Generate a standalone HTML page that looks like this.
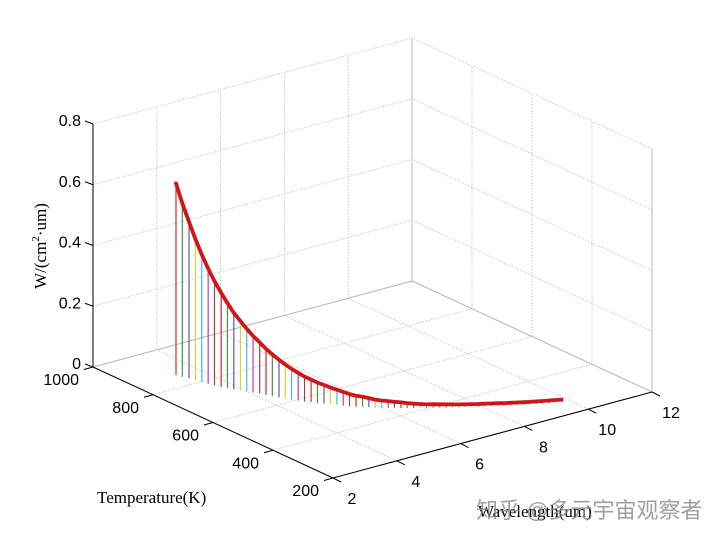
<!DOCTYPE html>
<html><head><meta charset="utf-8"><style>
html,body{margin:0;padding:0;background:#fff;width:720px;height:539px;overflow:hidden}
svg{display:block}
text{font-family:"Liberation Sans",sans-serif;font-size:16px;fill:#000}
.serif{font-family:"Liberation Serif",serif}
</style></head><body>
<svg id="chart" width="720" height="539" viewBox="0 0 720 539" xmlns="http://www.w3.org/2000/svg">
<g id="grid"></g>
<g id="axes"></g>
<g id="stems"></g>
<path id="curve" fill="none" stroke="#d0161b" stroke-width="3.8" stroke-linejoin="round" stroke-linecap="round"/>
<text class="serif" transform="translate(46,246) rotate(-90)" text-anchor="middle" style="font-size:17px">W/(cm<tspan dy="-7" style="font-size:11px">2</tspan><tspan dy="7">·um)</tspan></text>
<text class="serif" x="97" y="503" style="font-size:17px">Temperature(K)</text>
<text class="serif" x="478" y="517" style="font-size:17px">Wavelength(um)</text>
<text x="476" y="518" style="font-family:'Liberation Sans','Noto Sans CJK SC',sans-serif;font-size:22px;fill:#888;opacity:0.8">知乎 @多元宇宙观察者</text>
</svg>
<script>
// ---- data ----
const wavelength = [3.29,3.35,3.42,3.46,3.50,3.56,3.62,3.69,3.77,3.83,3.92,4.00,4.08,4.17,4.23,4.31,4.38,4.46,4.54,4.63,4.71,4.82,4.90,5.01,5.11,5.22,5.30,5.40,5.51,5.64,5.74,5.84,5.97,6.10,6.22,6.35,6.47,6.60,6.73,6.85,7.00,7.14,7.26,7.40,7.53,7.66,7.81,7.94,8.08,8.22,8.36,8.49,8.63,8.77,8.91,9.05,9.20,9.34,9.48,9.63,9.77];
const temperature = [860.5,845.8,830.9,813.9,796.9,782.0,767.3,752.5,740.1,725.2,712.7,700.2,687.6,675.1,660.4,647.8,633.1,620.6,608.1,595.5,583.0,572.7,560.1,549.9,539.7,529.3,516.8,506.6,496.4,488.3,478.1,467.9,459.9,451.9,443.9,435.9,427.9,419.9,411.9,403.9,398.0,390.9,382.4,375.8,368.3,360.6,354.9,347.8,340.8,334.0,327.4,320.3,313.6,307.0,300.3,294.1,288.4,282.6,275.5,269.7,264.0];
const power = [0.632,0.571,0.515,0.465,0.420,0.379,0.343,0.309,0.279,0.252,0.228,0.206,0.186,0.168,0.152,0.137,0.124,0.112,0.101,0.091,0.082,0.074,0.067,0.061,0.055,0.049,0.045,0.040,0.036,0.033,0.030,0.027,0.024,0.022,0.020,0.018,0.016,0.014,0.013,0.012,0.011,0.010,0.010,0.009,0.009,0.009,0.008,0.008,0.008,0.008,0.008,0.008,0.008,0.008,0.008,0.008,0.008,0.008,0.009,0.009,0.009];
const lambdaTicks = [2,4,6,8,10,12];
const tempTicks = [200,400,600,800,1000];
const zTicks = [0,0.2,0.4,0.6,0.8];
const zTickLabels = ["0","0.2","0.4","0.6","0.8"];

// ---- projection ----
const O = [93,367];
const LV = [319,-86];
const TV = [240,111];
const ZV = [0,-243];
function P(l,t,z){
  const a=(l-2)/10, b=(1000-t)/800, c=z/0.8;
  return [O[0]+a*LV[0]+b*TV[0]+c*ZV[0], O[1]+a*LV[1]+b*TV[1]+c*ZV[1]];
}
const NS="http://www.w3.org/2000/svg";
function line(g,p,q,stroke,w,dash,name){
  const e=document.createElementNS(NS,"line");
  e.setAttribute("x1",p[0]);e.setAttribute("y1",p[1]);e.setAttribute("x2",q[0]);e.setAttribute("y2",q[1]);
  e.setAttribute("stroke",stroke);e.setAttribute("stroke-width",w);
  if(dash)e.setAttribute("stroke-dasharray",dash);
  
  
  g.appendChild(e);return e;
}
function txt(g,x,y,s,anchor,name){
  const e=document.createElementNS(NS,"text");
  e.setAttribute("x",x);e.setAttribute("y",y);e.setAttribute("text-anchor",anchor);
  e.textContent=s;
  
  
  g.appendChild(e);return e;
}
const grid=document.getElementById("grid"), axes=document.getElementById("axes");
const gc="#c8c8c8", dsh="1.5,1.5";
lambdaTicks.forEach(l=>line(grid,P(l,200,0),P(l,1000,0),gc,1,dsh,"floor-grid-lambda"));
tempTicks.forEach(t=>line(grid,P(2,t,0),P(12,t,0),gc,1,dsh,"floor-grid-temp"));
lambdaTicks.forEach(l=>line(grid,P(l,1000,0),P(l,1000,0.8),gc,1,dsh,"wall-grid-lambda"));
zTicks.forEach(z=>line(grid,P(2,1000,z),P(12,1000,z),gc,1,dsh,"wall-grid-z"));
tempTicks.forEach(t=>line(grid,P(12,t,0),P(12,t,0.8),gc,1,dsh,"side-grid-temp"));
zTicks.forEach(z=>line(grid,P(12,200,z),P(12,1000,z),gc,1,dsh,"side-grid-z"));
line(grid,P(12,1000,0),P(12,1000,0.8),"#bbb",1,null,"box-edge-back");
line(grid,P(2,1000,0),P(12,1000,0),"#bbb",1,null,"box-edge-floor-back");
line(grid,P(12,200,0),P(12,1000,0),"#bbb",1,null,"box-edge-floor-side");
line(grid,P(12,200,0),P(12,200,0.8),"#bbb",1,null,"box-edge-right");
line(axes,P(2,1000,0),P(2,1000,0.8),"#000",1,null,"z-axis-line");
line(axes,P(2,1000,0),P(2,200,0),"#000",1,null,"temperature-axis-line");
line(axes,P(2,200,0),P(12,200,0),"#000",1,null,"wavelength-axis-line");
zTicks.forEach((z,i)=>{const p=P(2,1000,z);
  line(axes,p,[p[0]-8,p[1]-3],"#000",1,null,"z-tick");
  txt(axes,p[0]-12,p[1]+2,zTickLabels[i],"end","z-tick-label");});
tempTicks.forEach(t=>{const p=P(2,t,0);
  line(axes,p,[p[0]-9,p[1]+2.5],"#000",1,null,"temperature-tick");
  txt(axes,p[0]-14,p[1]+18,String(t),"end","temperature-tick-label");});
lambdaTicks.forEach(l=>{const p=P(l,200,0);
  line(axes,p,[p[0]+8,p[1]+4],"#000",1,null,"wavelength-tick");
  txt(axes,p[0]+19,p[1]+26,String(l),"middle","wavelength-tick-label");});
const colors=["#d62a2a","#3f9a3f","#5a5aa8","#d8d040","#40c0c8","#b040b8","#8a4a4a"];
const stems=document.getElementById("stems");
let d="";
power.forEach((w,i)=>{
  const b=P(wavelength[i],temperature[i],0), top=P(wavelength[i],temperature[i],w);
  line(stems,b,top,colors[i%colors.length],1.2,null,"stem");
  d+=(i?"L":"M")+top[0].toFixed(1)+" "+top[1].toFixed(1);
});
document.getElementById("curve").setAttribute("d",d);
</script>
</body></html>
